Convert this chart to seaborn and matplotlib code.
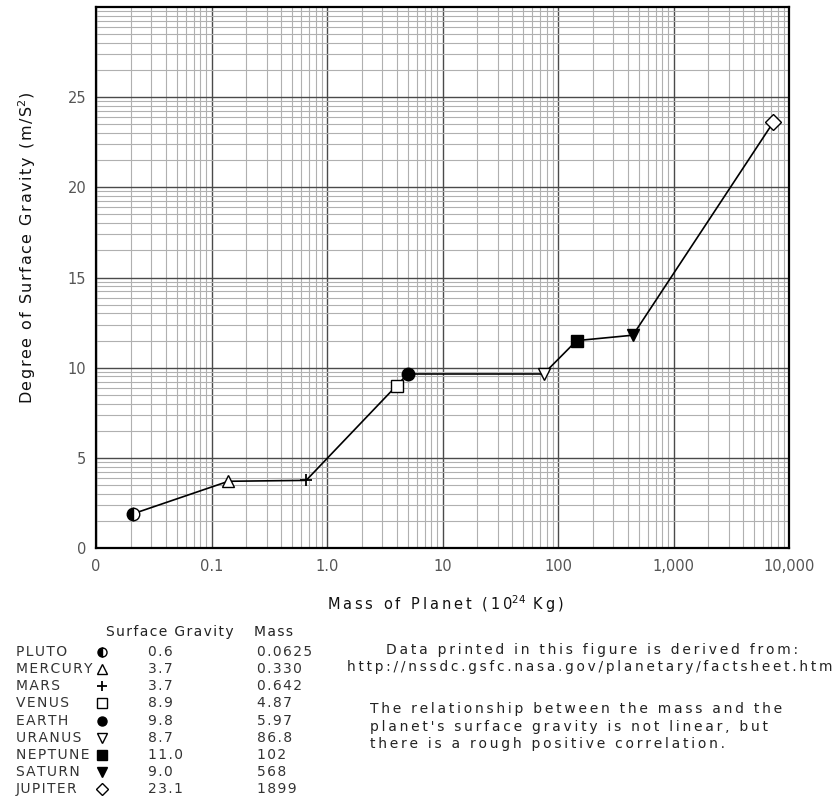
import matplotlib.pyplot as plt
import numpy as np
import pandas as pd
import seaborn as sns
from matplotlib.ticker import FixedLocator, NullFormatter

sns.set_theme(style="white")
plt.rcParams["font.family"] = ["DejaVu Sans"]

# Data (plotted positions; table values as printed)
planets = ["PLUTO", "MERCURY", "MARS", "VENUS", "EARTH", "URANUS", "NEPTUNE", "SATURN", "JUPITER"]
plot_mass = [0.021, 0.14, 0.66, 4.0, 5.0, 75, 145, 445, 7300]
plot_gravity = [1.9, 3.7, 3.75, 9.0, 9.65, 9.65, 11.5, 11.8, 23.6]
table_gravity = ["0.6", "3.7", "3.7", "8.9", "9.8", "8.7", "11.0", "9.0", "23.1"]
table_mass = ["0.0625", "0.330", "0.642", "4.87", "5.97", "86.8", "102", "568", "1899"]
marker_shapes = ["o", "^", "+", "s", "o", "v", "s", "v", "D"]
marker_fills = ["left", "none", "full", "none", "full", "none", "full", "full", "none"]

x_ticks = [0.01, 0.1, 1, 10, 100, 1000, 10000]
x_tick_labels = ["0", "0.1", "1.0", "10", "100", "1,000", "10,000"]
y_ticks = [0, 5, 10, 15, 20, 25]

HAIR = "\u200a"
THIN = "\u2009"


def track(s, sp=HAIR):
    # fake letter spacing, the original font is widely tracked
    return sp.join(s)


df = pd.DataFrame({"planet": planets, "mass": plot_mass, "gravity": plot_gravity})

W, H = 838, 799
fig = plt.figure(figsize=(W / 100, H / 100), dpi=100)
ax = fig.add_axes([96 / W, 1 - 548 / H, (789 - 96) / W, (548 - 7) / H])
ax.set_xscale("log")

sns.lineplot(data=df, x="mass", y="gravity", sort=False, color="black",
             linewidth=1.2, ax=ax, zorder=3)


def draw_marker(axis, x, y, shape, fill, size):
    if fill == "full":
        face, alt, fs = "black", "white", "full"
    elif fill == "left":
        face, alt, fs = "black", "white", "left"
    else:
        face, alt, fs = "white", "white", "full"
    axis.plot([x], [y], marker=shape, markersize=size, markeredgecolor="black",
              markerfacecolor=face, markerfacecoloralt=alt, fillstyle=fs,
              markeredgewidth=1.0 if shape != "+" else 1.3, color="black",
              linestyle="none", zorder=4)


for m, g, shp, fl in zip(plot_mass, plot_gravity, marker_shapes, marker_fills):
    draw_marker(ax, m, g, shp, fl, 9 if shp == "o" else 8)

ax.set_xlim(0.01, 10000)
ax.set_ylim(0, 30)
ax.set_xticks(x_ticks)
ax.set_xticklabels(x_tick_labels)
ax.xaxis.set_minor_locator(FixedLocator([d * k for d in x_ticks[:-1] for k in range(2, 10)]))
ax.xaxis.set_minor_formatter(NullFormatter())
ax.set_yticks(y_ticks)
ax.yaxis.set_minor_locator(FixedLocator([b + 5 * np.log10(k) for b in range(0, 30, 5) for k in range(2, 10)]))
ax.yaxis.set_minor_formatter(NullFormatter())

ax.grid(which="major", color="#4a4a4a", linewidth=1.0)
ax.grid(which="minor", color="#b0b0b0", linewidth=0.8)
ax.set_axisbelow(True)
ax.tick_params(which="both", length=0, labelsize=10.5, labelcolor="#555555")
ax.tick_params(axis="x", pad=8)
ax.tick_params(axis="y", pad=7)
for s in ax.spines.values():
    s.set_color("black")
    s.set_linewidth(1.6)

ax.set_xlabel("")
ax.set_ylabel("")
fig.text(445 / W, 1 - 604 / H,
         track("Mass of Planet (10", THIN) + "$^{24}$" + track(" Kg)", THIN),
         ha="center", va="center", fontsize=10.5, color="#111111")
fig.text(27 / W, 1 - 248 / H, track("Degree of Surface Gravity (m/S", HAIR) + "$^{2}$)",
         ha="center", va="center", rotation=90, fontsize=11.5, color="#111111")

# legend table and notes drawn in pixel coordinates
tab = fig.add_axes([0, 0, 1, 1], zorder=-1)
tab.set_xlim(0, W)
tab.set_ylim(H, 0)
tab.axis("off")

tab.text(106, 632, track("Surface Gravity"), fontsize=10, va="center", ha="left", color="#222222")
tab.text(254, 632, track("Mass"), fontsize=10, va="center", ha="left", color="#222222")
row_step = 17.15
for i, (name, g, m, shp, fl) in enumerate(zip(planets, table_gravity, table_mass,
                                              marker_shapes, marker_fills)):
    y = 652 + i * row_step
    tab.text(16, y, track(name), fontsize=10, va="center", ha="left", color="#333333")
    tab.text(148, y, track(g), fontsize=10, va="center", ha="left", color="#333333")
    tab.text(257, y, track(m), fontsize=10, va="center", ha="left", color="#333333")
    draw_marker(tab, 102, y, shp, fl, 6.5)

tab.text(592, 650, track("Data printed in this figure is derived from:", THIN), fontsize=10,
         ha="center", va="center", color="#222222")
tab.text(590, 667, track("http://nssdc.gsfc.nasa.gov/planetary/factsheet.htm", THIN), fontsize=9.8,
         ha="center", va="center", color="#222222")
notes = ["The relationship between the mass and the",
         "planet's surface gravity is not linear, but",
         "there is a rough positive correlation."]
for i, line in enumerate(notes):
    tab.text(370, 709 + i * 17.5, track(line, THIN), fontsize=10, ha="left", va="center",
             color="#222222")

fig.savefig("out.png", dpi=100)
